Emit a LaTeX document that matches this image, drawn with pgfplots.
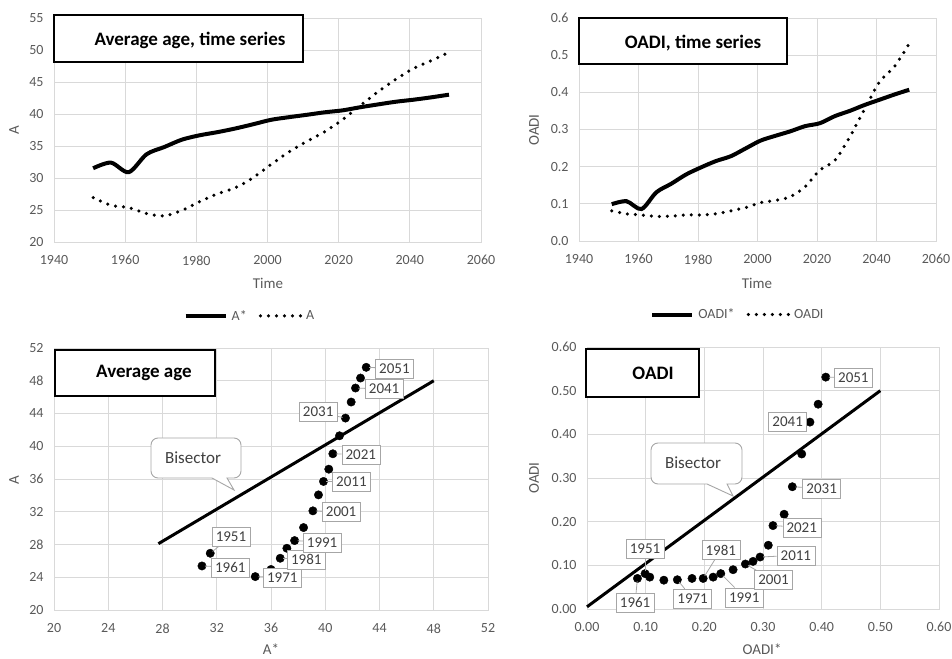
\documentclass[border=0pt]{standalone}
\usepackage{fontspec}
\setmainfont{Carlito}
\usepackage{pgfplots}
\pgfplotsset{compat=1.18}
\usepackage{pgfplotstable}

\definecolor{tickgray}{RGB}{89,89,89}
\definecolor{gridgray}{RGB}{217,217,217}
\definecolor{lblgray}{RGB}{64,64,64}
\definecolor{boxgray}{RGB}{166,166,166}

% 5-year values: A*, A, OADI*, OADI
\pgfplotstableread{
year Astar A     Ostar O
1951 31.52 26.93 0.099 0.081
1956 32.40 25.75 0.107 0.073
1961 30.91 25.38 0.086 0.070
1966 33.70 24.45 0.131 0.066
1971 34.84 24.08 0.154 0.067
1976 36.00 24.95 0.179 0.070
1981 36.68 26.32 0.198 0.070
1986 37.17 27.54 0.215 0.073
1991 37.74 28.48 0.228 0.081
1996 38.40 30.07 0.249 0.090
2001 39.09 32.11 0.270 0.103
2006 39.50 34.06 0.283 0.109
2011 39.87 35.70 0.295 0.119
2016 40.26 37.20 0.309 0.146
2021 40.56 39.08 0.317 0.191
2026 41.05 41.28 0.336 0.217
2031 41.49 43.44 0.350 0.280
2036 41.91 45.40 0.366 0.355
2041 42.23 47.11 0.380 0.428
2046 42.60 48.33 0.394 0.469
2051 43.02 49.64 0.407 0.531
}\ages

\newcommand\fs[1]{\fontsize{#1}{#1}\selectfont}

\tikzset{
  dl/.style={draw=boxgray, fill=white, text=lblgray, font=\fs{15},
    minimum width=38pt, minimum height=19pt, inner sep=0pt},
}

\pgfplotsset{
  excel/.style={
    scale only axis,
    axis line style={gridgray, line width=0.9pt},
    grid=major, grid style={gridgray, line width=0.9pt},
    major tick length=0pt,
    tick label style={font=\fs{14}, text=tickgray},
    yticklabel style={xshift=-7pt},
    xticklabel style={yshift=-10pt},
    /pgf/number format/assume math mode=true,
    /pgf/number format/set thousands separator={},
  },
  solidline/.style={black, line width=4pt, smooth, no marks},
  dotline/.style={black, line width=3.5pt, smooth, no marks, line cap=round,
    dash pattern=on 0pt off 8pt},
  legstyle/.style={legend columns=2,
    legend image code/.code={\draw[##1] (0pt,0pt) -- (40pt,0pt);},
    legend style={draw=none, fill=none, font=\fs{14}, text=tickgray,
      anchor=center,
      /tikz/every even column/.append style={column sep=10pt},
      /tikz/every odd column/.append style={column sep=2pt}}},
}

% point and label anchor, set inside an axis
\newcommand\pl[5]{%
  \coordinate (P#1) at (axis cs:#2,#3);
  \coordinate (Q#1) at (axis cs:#4,#5);}
% label box with leader line, drawn after the axis
\newcommand\lbl[1]{%
  \node[dl] (L) at (Q#1) {#1};
  \draw[boxgray, line width=0.8pt, shorten <=3pt] (P#1) -- (L);}

\begin{document}
\begin{tikzpicture}[x=1pt,y=1pt]
\path[use as bounding box] (0,0) rectangle (952,658);

% ---- top left: average age, time series
\begin{axis}[excel, legstyle, at={(54pt,416pt)}, anchor=south west,
  width=427pt, height=224pt,
  xmin=1940, xmax=2060, ymin=20, ymax=55,
  xtick={1940,1960,...,2060}, ytick={20,25,...,55},
  legend style={at={(0.459,-0.33)}}]
\addplot[solidline] table[x=year, y=Astar] {\ages};
\addlegendentry{A*}
\addplot[dotline] table[x=year, y=A] {\ages};
\addlegendentry{A}
\end{axis}

% ---- top right: OADI, time series
\begin{axis}[excel, legstyle, at={(579pt,417pt)}, anchor=south west,
  width=357pt, height=223pt,
  xmin=1940, xmax=2060, ymin=0, ymax=0.6,
  xtick={1940,1960,...,2060}, ytick={0,0.1,...,0.6},
  yticklabel style={/pgf/number format/.cd, fixed, fixed zerofill, precision=1},
  legend style={at={(0.445,-0.33)}}]
\addplot[solidline] table[x=year, y=Ostar] {\ages};
\addlegendentry{OADI*}
\addplot[dotline] table[x=year, y=O] {\ages};
\addlegendentry{OADI}
\end{axis}

% ---- bottom left: A* vs A
\begin{axis}[excel, at={(54pt,48pt)}, anchor=south west,
  width=434pt, height=262pt, clip=false,
  xmin=20, xmax=52, ymin=20, ymax=52,
  xtick={20,24,...,52}, ytick={20,24,...,52}]
\addplot[black, line width=3pt] coordinates {(27.7,28.1) (48,48)};
\addplot[only marks, mark=*, mark size=4.2pt, black] table[x=Astar, y=A] {\ages};
\pl{1951}{31.52}{26.93}{33.05}{28.97}
\pl{1961}{30.91}{25.38}{33.0}{25.22}
\pl{1971}{34.84}{24.08}{36.83}{24.0}
\pl{1981}{36.68}{26.32}{38.6}{26.2}
\pl{1991}{37.74}{28.48}{39.77}{28.28}
\pl{2001}{39.09}{32.11}{41.17}{31.99}
\pl{2011}{39.87}{35.70}{41.93}{35.7}
\pl{2021}{40.56}{39.08}{42.62}{38.96}
\pl{2031}{41.49}{43.44}{39.48}{44.17}
\pl{2041}{42.23}{47.11}{44.34}{46.99}
\pl{2051}{43.02}{49.64}{45.1}{49.51}
\end{axis}
\foreach \y in {1951,1961,...,2051} {\lbl{\y}}

% ---- bottom right: OADI* vs OADI
\begin{axis}[excel, at={(587pt,49pt)}, anchor=south west,
  width=352pt, height=262pt, clip=false,
  xmin=0, xmax=0.6, ymin=0, ymax=0.6,
  xtick={0,0.1,...,0.6}, ytick={0,0.1,...,0.6},
  xticklabel style={/pgf/number format/.cd, fixed, fixed zerofill, precision=2},
  yticklabel style={/pgf/number format/.cd, fixed, fixed zerofill, precision=2}]
\addplot[black, line width=3pt] coordinates {(0,0.005) (0.5,0.5)};
\addplot[only marks, mark=*, mark size=4.2pt, black] table[x=Ostar, y=O] {\ages};
\pl{1951}{0.099}{0.081}{0.099}{0.137}
\pl{1961}{0.086}{0.070}{0.082}{0.015}
\pl{1971}{0.154}{0.067}{0.180}{0.024}
\pl{1981}{0.198}{0.070}{0.228}{0.135}
\pl{1991}{0.228}{0.081}{0.268}{0.027}
\pl{2001}{0.270}{0.103}{0.318}{0.066}
\pl{2011}{0.295}{0.119}{0.356}{0.123}
\pl{2021}{0.317}{0.191}{0.366}{0.187}
\pl{2031}{0.350}{0.280}{0.400}{0.276}
\pl{2041}{0.380}{0.428}{0.342}{0.429}
\pl{2051}{0.407}{0.531}{0.454}{0.530}
\end{axis}
\foreach \y in {1951,1961,...,2051} {\lbl{\y}}

% ---- axis titles
\begin{scope}[every node/.style={font=\fs{15}, text=tickgray}]
\node at (268,375) {Time};
\node at (757,375) {Time};
\node[rotate=90] at (14,528) {A};
\node[rotate=90] at (534,528) {OADI};
\node at (271,9) {A*};
\node at (762,9) {OADI*};
\node[rotate=90] at (14,178) {A};
\node[rotate=90] at (534,180) {OADI};
\end{scope}

% ---- chart title boxes
\begin{scope}[every node/.style={font=\bfseries\fs{19}}]
\draw[black, line width=1.3pt, fill=white] (54,596) rectangle (303,643);
\node at (190,618) {Average age, time series};
\draw[black, line width=1.3pt, fill=white] (579,594) rectangle (787,640);
\node at (693,615) {OADI, time series};
\draw[black, line width=1.3pt, fill=white] (55,262) rectangle (215,308);
\node at (144,285) {Average age};
\draw[black, line width=1.3pt, fill=white] (586,261) rectangle (699,309);
\node at (653,285) {OADI};
\end{scope}

% ---- bisector callouts
\draw[boxgray, line width=0.9pt, fill=white, rounded corners=7pt]
  (151,200) -- (151,220) -- (241,220) -- (241,180)
  [sharp corners] -- (227,180) -- (234,168) -- (212,180)
  [rounded corners=7pt] -- (151,180) -- cycle;
\node[font=\fs{17}, text=lblgray] at (193,200) {Bisector};
\draw[boxgray, line width=0.9pt, fill=white, rounded corners=7pt]
  (651,195) -- (651,215) -- (742,215) -- (742,174)
  [sharp corners] -- (727,174) -- (733,162) -- (707,174)
  [rounded corners=7pt] -- (651,174) -- cycle;
\node[font=\fs{17}, text=lblgray] at (693,195) {Bisector};
\end{tikzpicture}
\end{document}
